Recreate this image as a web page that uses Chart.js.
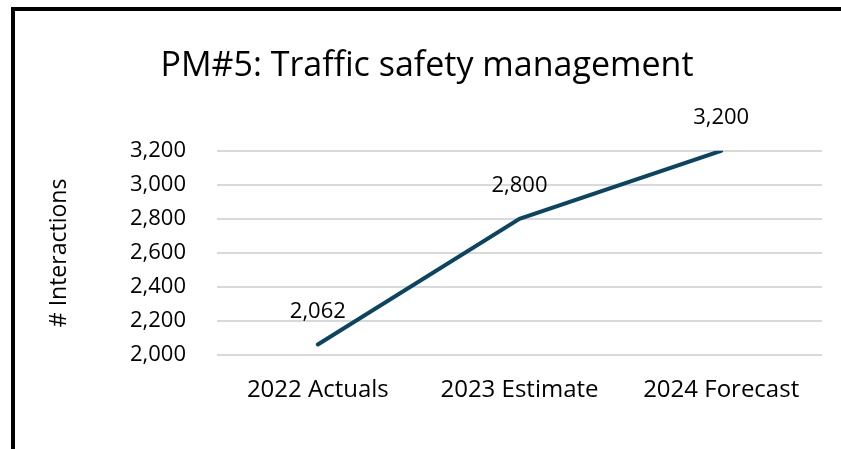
<!DOCTYPE html>
<html>
<head>
<meta charset="utf-8">
<script src="https://cdn.jsdelivr.net/npm/chart.js@4.4.1/dist/chart.umd.min.js"></script>
<style>
    body { margin: 0; background: #fff; }
    #wrap { position: relative; width: 841px; height: 449px; }
    #frame {
        position: absolute; left: 11px; top: 7px; right: -10px; bottom: -10px;
        border-left: 4px solid #000; border-top: 4px solid #000;
        pointer-events: none;
    }
</style>
</head>
<body>
<div id="wrap">
    <canvas id="chart" width="841" height="449"></canvas>
    <div id="frame"></div>
</div>
<script>
const categories = ['2022 Actuals', '2023 Estimate', '2024 Forecast'];
const interactions = [2062, 2800, 3200];
const yMin = 2000;
const yMax = 3200;
const yStep = 200;

const FONT = 'Open Sans';

// Value labels above each point
const valueLabels = {
    id: 'valueLabels',
    afterDatasetsDraw(chart) {
        const ctx = chart.ctx;
        const meta = chart.getDatasetMeta(0);
        ctx.save();
        ctx.font = `22px "${FONT}"`;
        ctx.fillStyle = '#000';
        ctx.textAlign = 'center';
        ctx.textBaseline = 'middle';
        meta.data.forEach((pt, i) => {
            ctx.fillText(interactions[i].toLocaleString('en-US'), pt.x, pt.y - 33);
        });
        ctx.restore();
    }
};

new Chart(document.getElementById('chart'), {
    type: 'line',
    data: {
        labels: categories,
        datasets: [{
            data: interactions,
            borderColor: '#0b4562',
            borderWidth: 4,
            borderCapStyle: 'round',
            pointRadius: 0,
            tension: 0
        }]
    },
    options: {
        responsive: false,
        devicePixelRatio: 1,
        animation: false,
        layout: { padding: { left: 32, right: 19, top: 0, bottom: 0 } },
        plugins: {
            legend: { display: false },
            tooltip: { enabled: false },
            title: {
                display: true,
                text: 'PM#5: Traffic safety management',
                color: '#000',
                font: { family: FONT, size: 34, weight: 'normal' },
                padding: { top: 46, bottom: 64 }
            }
        },
        scales: {
            x: {
                offset: true,
                grid: { display: false, drawTicks: false },
                border: { display: false },
                ticks: { color: '#000', font: { family: FONT, size: 24 }, padding: 21 },
                afterFit(scale) { scale.height = 94; }
            },
            y: {
                min: yMin,
                max: yMax,
                ticks: {
                    stepSize: yStep,
                    color: '#000',
                    padding: 31,
                    font: { family: FONT, size: 22 },
                    callback: v => v.toLocaleString('en-US')
                },
                grid: { color: '#d9d9d9', lineWidth: 2, drawTicks: false },
                border: { display: false },
                title: {
                    display: true,
                    text: '# Interactions',
                    color: '#000',
                    font: { family: FONT, size: 23 },
                    padding: { top: 14, bottom: 0 }
                },
                afterFit(scale) { scale.width = 185; }
            }
        }
    },
    plugins: [valueLabels]
});
</script>
</body>
</html>
